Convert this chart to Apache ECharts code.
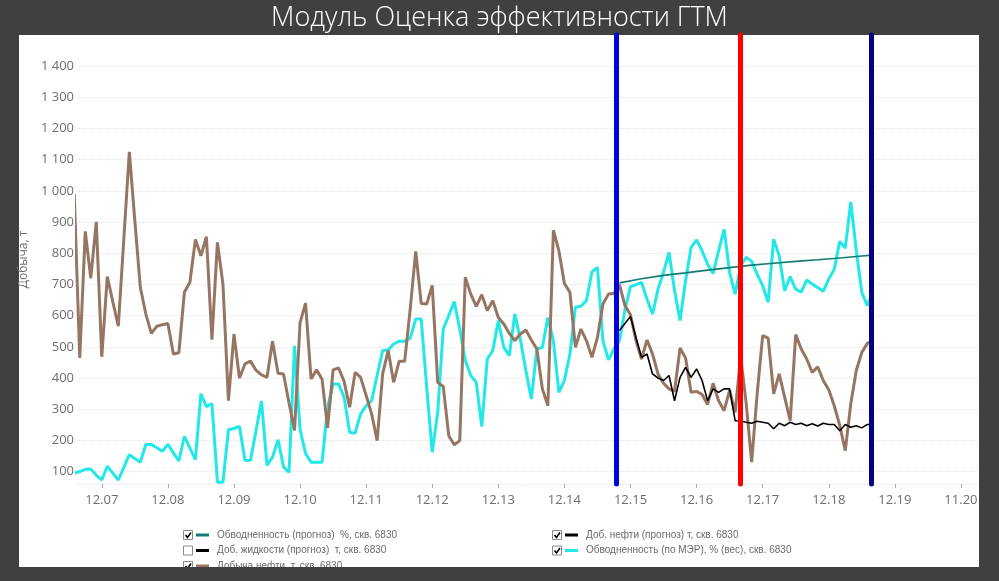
<!DOCTYPE html>
<html lang="ru">
<head>
    <meta charset="UTF-8">
    <title>Модуль Оценка эффективности ГТМ</title>
    <style>
        html, body { margin: 0; padding: 0; background: #404040; }
    </style>
</head>

<script src="https://cdn.jsdelivr.net/npm/echarts@6/dist/echarts.min.js"></script>

<body>
<div id="main" style="height: 581px;width: 999px"></div>
<script type="text/javascript">
    // подписи оси X (метка каждые 12 точек)
    var xLabels = ['12.07', '12.08', '12.09', '12.10', '12.11', '12.12', '12.13',
        '12.14', '12.15', '12.16', '12.17', '12.18', '12.19', '11.20']
    var yTicks = [100, 200, 300, 400, 500, 600, 700, 800, 900, 1000, 1100, 1200, 1300, 1400]

    // Добыча нефти, т (факт) — первая точка при месяце -5
    var oilStart = -5
    var oilFact = [990, 464, 870, 720, 901, 468, 725, 645, 566, 845, 1125, 905, 690, 605, 543, 566, 571,
        575, 477, 481, 675, 707, 844, 792, 853, 523, 835, 701, 327,
        541, 400, 445, 454, 425, 410, 402, 518, 415, 413, 320, 232,
        577, 640, 397, 426, 396, 240, 426, 432, 389, 306, 418, 402,
        344, 285, 199, 413, 488, 386, 454, 454, 620, 806, 639, 637,
        697, 386, 373, 215, 186, 199, 723, 669, 630, 667, 616, 648,
        594, 573, 543, 520, 541, 554, 522, 493, 365, 311, 874, 808,
        703, 675, 498, 557, 520, 466, 530, 637, 669, 671, 699, 632,
        603, 520, 461, 522, 477, 413, 383, 365, 357, 496, 464, 354,
        357, 347, 315, 383, 327, 295, 360, 290, 470, 320, 130, 349,
        536, 528, 349, 413, 338, 263, 539, 493, 461, 418, 436, 392,
        362, 311, 247, 167, 317, 424, 482, 511, 520]

    // Обводненность (по МЭР), % (вес)
    var waterStart = -5
    var waterFact = [95, 100, 107, 108, 88, 73, 117, 95, 73, 113, 154, 142, 130, 187, 187, 176, 165,
        187, 160, 134, 213, 175, 138, 349, 308, 318, 66, 66, 234,
        238, 245, 135, 136, 231, 326, 120, 146, 202, 115, 97, 503,
        235, 158, 130, 130, 130, 306, 381, 381, 338, 226, 223, 285,
        311, 327, 408, 488, 490, 509, 518, 518, 528, 589, 589, 370,
        162, 290, 557, 600, 645, 557, 456, 408, 386, 244, 461, 488,
        584, 498, 472, 605, 525, 424, 333, 493, 498, 594, 520, 354,
        392, 477, 627, 630, 648, 740, 755, 520, 458, 493, 520, 620,
        693, 699, 707, 653, 605, 685, 739, 803, 680, 584, 712, 819,
        843, 808, 765, 735, 808, 877, 739, 669, 760, 787, 774, 733,
        696, 643, 845, 792, 680, 725, 685, 675, 714, 701, 690, 678,
        717, 749, 838, 817, 965, 808, 675, 632, 675]

    // Доб. нефти (прогноз) т
    var oilFcStart = 94
    var oilForecast = [552, 575, 597, 530, 466, 477, 413, 400, 392, 408, 327, 402, 434,
        402, 429, 392, 327, 365, 354, 365, 365, 263, 262, 258, 255, 261, 258,
        255, 237, 255, 247, 258, 251, 255, 247, 253, 246, 255, 251, 251,
        231, 251, 242, 247, 240, 251, 251]

    // Обводненность (прогноз) %
    var waterFcMonths = [94, 98, 102, 106, 110, 114, 118, 122, 126, 130, 134, 138, 140]
    var waterForecast = [705, 718, 729, 737, 746, 754, 762, 768, 774, 779, 785, 791, 794]

    // вертикальные отметки (месяц)
    var marks = [93.5, 116, 139.8]
    var markColors = ['#0000dd', '#ff0000', '#000080']

    var legendNames = ['Обводненность (прогноз)  %, скв. 6830', 'Доб. жидкости (прогноз)  т, скв. 6830',
        'Добыча нефти, т, скв. 6830', 'Доб. нефти (прогноз) т, скв. 6830', 'Обводненность (по МЭР), % (вес), скв. 6830']
    var legendColors = ['#137a72', '#000000', '#967662', '#000000', '#22e8e8']
    var legendChecked = [true, false, true, true, true]

    function pairs(start, arr) {
        return arr.map(function (v, i) { return [start + i, v] })
    }

    function legendGraphics() {
        var els = []
        legendNames.forEach(function (name, i) {
            var col = i < 3 ? 0 : 1
            var row = i < 3 ? i : i - 3
            var x = col === 0 ? 183 : 552
            var y = 535 + row * 15.5
            els.push({type: 'rect', shape: {x: x + 0.5, y: y - 4.5, width: 9, height: 9},
                style: {fill: '#fff', stroke: '#8a8a8a', lineWidth: 1}, z: 5})
            if (legendChecked[i]) {
                els.push({type: 'polyline', shape: {points: [[x + 2.5, y], [x + 4.5, y + 2.5], [x + 8, y - 2.5]]},
                    style: {stroke: '#000', lineWidth: 1.6, fill: null}, z: 6})
            }
            els.push({type: 'rect', shape: {x: x + 13, y: y - 1.5, width: 13, height: 3},
                style: {fill: legendColors[i]}, z: 5})
            els.push({type: 'text', x: x + 34, y: y, z: 5,
                style: {text: name, fill: '#6a6a6a', fontSize: 10,
                    fontFamily: '"Liberation Sans", Arial, sans-serif',
                    verticalAlign: 'middle', align: 'left'}})
        })
        return els
    }

    function drew() {
        var myChart = echarts.init(document.getElementById('main'), null, {renderer: 'canvas'})
        var option = {
            animation: false,
            backgroundColor: '#404040',
            textStyle: {fontFamily: '"Open Sans", "Noto Sans", sans-serif'},
            title: {
                text: 'Модуль Оценка эффективности ГТМ',
                left: 'center',
                top: 0,
                textStyle: {
                    color: '#ffffff',
                    fontSize: 27,
                    fontWeight: 300,
                    fontFamily: '"Open Sans", "Noto Sans", sans-serif'
                }
            },
            graphic: {
                elements: [
                    {type: 'rect', shape: {x: 19, y: 35, width: 960, height: 532},
                        style: {fill: '#ffffff'}, z: -100, silent: true}
                ].concat(legendGraphics()).concat([
                    {type: 'rect', shape: {x: 0, y: 567, width: 999, height: 14},
                        style: {fill: '#404040'}, z: 100, silent: true}
                ])
            },
            grid: {left: 77, right: 21, top: 35, bottom: 97},
            xAxis: {
                type: 'value',
                min: -4.5,
                max: 159.1,
                axisLine: {show: true, lineStyle: {color: '#f0f0f0'}},
                axisTick: {show: true, length: 4, customValues: xLabels.map(function (l, i) { return i * 12 }),
                    lineStyle: {color: '#aaaaaa'}},
                axisLabel: {
                    customValues: xLabels.map(function (l, i) { return i * 12 }),
                    formatter: function (v) { return xLabels[Math.round(v / 12)] },
                    color: '#6e6e6e',
                    fontSize: 13,
                    margin: 10
                },
                splitLine: {show: false}
            },
            yAxis: {
                type: 'value',
                name: 'Добыча, т',
                nameLocation: 'middle',
                nameRotate: 90,
                nameGap: 44,
                nameTextStyle: {color: '#6e6e6e', fontSize: 12},
                min: 60,
                max: 1500,
                axisLine: {show: false},
                axisTick: {show: false, customValues: yTicks},
                axisLabel: {
                    customValues: yTicks,
                    formatter: function (v) { return String(v).replace(/\B(?=(\d{3})+(?!\d))/g, ' ') },
                    color: '#6e6e6e',
                    fontSize: 13,
                    margin: 3
                },
                splitLine: {show: true, lineStyle: {color: '#e2e2e2', type: 'dotted'}}
            },
            series: [
                {
                    name: 'Обводненность (по МЭР), % (вес), скв. 6830',
                    type: 'line',
                    data: pairs(waterStart, waterFact),
                    showSymbol: false,
                    lineStyle: {color: '#22e8e8', width: 3},
                    z: 2
                },
                {
                    name: 'Добыча нефти, т, скв. 6830',
                    type: 'line',
                    data: pairs(oilStart, oilFact),
                    showSymbol: false,
                    lineStyle: {color: '#967662', width: 3},
                    z: 3
                },
                {
                    name: 'Доб. нефти (прогноз) т, скв. 6830',
                    type: 'line',
                    data: pairs(oilFcStart, oilForecast),
                    showSymbol: false,
                    lineStyle: {color: '#000000', width: 1.6},
                    z: 4
                },
                {
                    name: 'Обводненность (прогноз)  %, скв. 6830',
                    type: 'line',
                    data: waterFcMonths.map(function (m, i) { return [m, waterForecast[i]] }),
                    showSymbol: false,
                    lineStyle: {color: '#137a72', width: 1.6},
                    z: 4,
                    markLine: {
                        silent: true,
                        symbol: ['none', 'none'],
                        label: {show: false},
                        lineStyle: {width: 5, type: 'solid', cap: 'round'},
                        data: marks.map(function (m, i) {
                            return {xAxis: m, lineStyle: {color: markColors[i], width: 5, type: 'solid', cap: 'round'}}
                        })
                    }
                }
            ]
        }
        myChart.setOption(option)
    }

    drew()
</script>

</body>
</html>
